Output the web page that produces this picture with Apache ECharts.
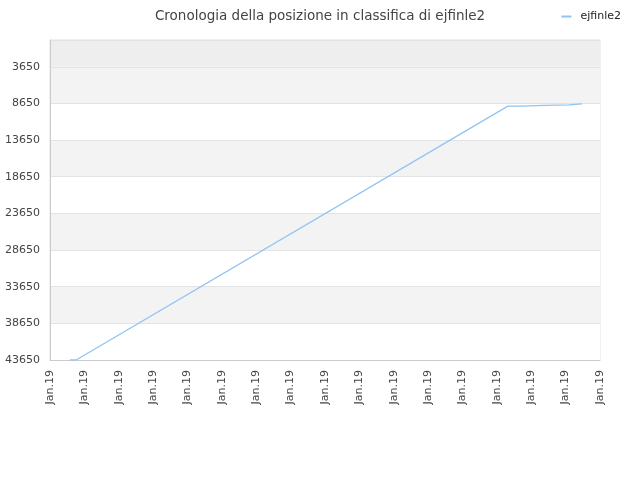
<!DOCTYPE html>
<html>
<head>
<meta charset="utf-8">
<script src="https://cdn.jsdelivr.net/npm/echarts@6/dist/echarts.min.js"></script>
<style>
    html, body { margin: 0; padding: 0; background: #fff; }
    #chart { width: 640px; height: 480px; }
</style>
</head>
<body>
<div id="chart"></div>
<script>
// posizione lungo l'asse x (in intervalli di etichetta) e posizione in classifica
const xPositions = [0.58, 0.76, 13.32, 13.69, 13.7, 14.39, 14.4, 15.09, 15.1, 15.48];
const rankValues = [43650, 43650, 9020, 9020, 8920, 8920, 8840, 8840, 8700, 8700];
const xTickLabels = ['Jan.19', 'Jan.19', 'Jan.19', 'Jan.19', 'Jan.19', 'Jan.19', 'Jan.19', 'Jan.19', 'Jan.19',
    'Jan.19', 'Jan.19', 'Jan.19', 'Jan.19', 'Jan.19', 'Jan.19', 'Jan.19', 'Jan.19'];
const yTickValues = [3650, 8650, 13650, 18650, 23650, 28650, 33650, 38650, 43650];
const seriesName = 'ejfinle2';

const chart = echarts.init(document.getElementById('chart'));

const option = {
    animation: false,
    textStyle: { fontFamily: 'DejaVu Sans, sans-serif' },
    title: {
        text: 'Cronologia della posizione in classifica di ejfinle2',
        left: 'center',
        top: 4,
        textStyle: { fontSize: 13.5, fontWeight: 'normal', color: '#444' }
    },
    legend: {
        right: 14,
        top: 6,
        itemWidth: 10,
        itemHeight: 2,
        itemGap: 10,
        icon: 'rect',
        textStyle: { fontSize: 11, color: '#222', padding: [0, 0, 0, 4] },
        data: [seriesName]
    },
    grid: {
        left: 50,
        right: 40,
        top: 40,
        bottom: 120,
        show: true,
        borderColor: '#e0e0e0',
        borderWidth: 1
    },
    xAxis: {
        type: 'value',
        min: 0,
        max: xTickLabels.length - 1,
        interval: 1,
        axisLine: { show: true, onZero: false, lineStyle: { color: '#ccc' } },
        axisTick: { show: false },
        splitLine: { show: false },
        axisLabel: {
            rotate: 90,
            fontSize: 11,
            color: '#444',
            margin: 10,
            formatter: v => xTickLabels[Math.round(v)] || ''
        }
    },
    yAxis: {
        type: 'value',
        inverse: true,
        min: 0,
        max: 43650,
        axisLine: { show: true, lineStyle: { color: '#ccc' } },
        axisTick: { show: false, customValues: [0].concat(yTickValues) },
        axisLabel: {
            customValues: yTickValues,
            fontSize: 11,
            color: '#444',
            margin: 10,
            formatter: v => String(v)
        },
        splitLine: { show: true, lineStyle: { color: '#e3e3e3' } },
        splitArea: {
            show: true,
            areaStyle: {
                color: ['#eeeeee', '#f3f3f3', '#ffffff', '#f3f3f3', '#ffffff',
                    '#f3f3f3', '#ffffff', '#f3f3f3', '#ffffff']
            }
        }
    },
    series: [
        {
            name: seriesName,
            type: 'line',
            data: xPositions.map((x, i) => [x, rankValues[i]]),
            showSymbol: false,
            symbol: 'none',
            lineStyle: { color: '#90c4f5', width: 1.3 },
            itemStyle: { color: '#90c4f5' }
        }
    ]
};

chart.setOption(option);
</script>
</body>
</html>
